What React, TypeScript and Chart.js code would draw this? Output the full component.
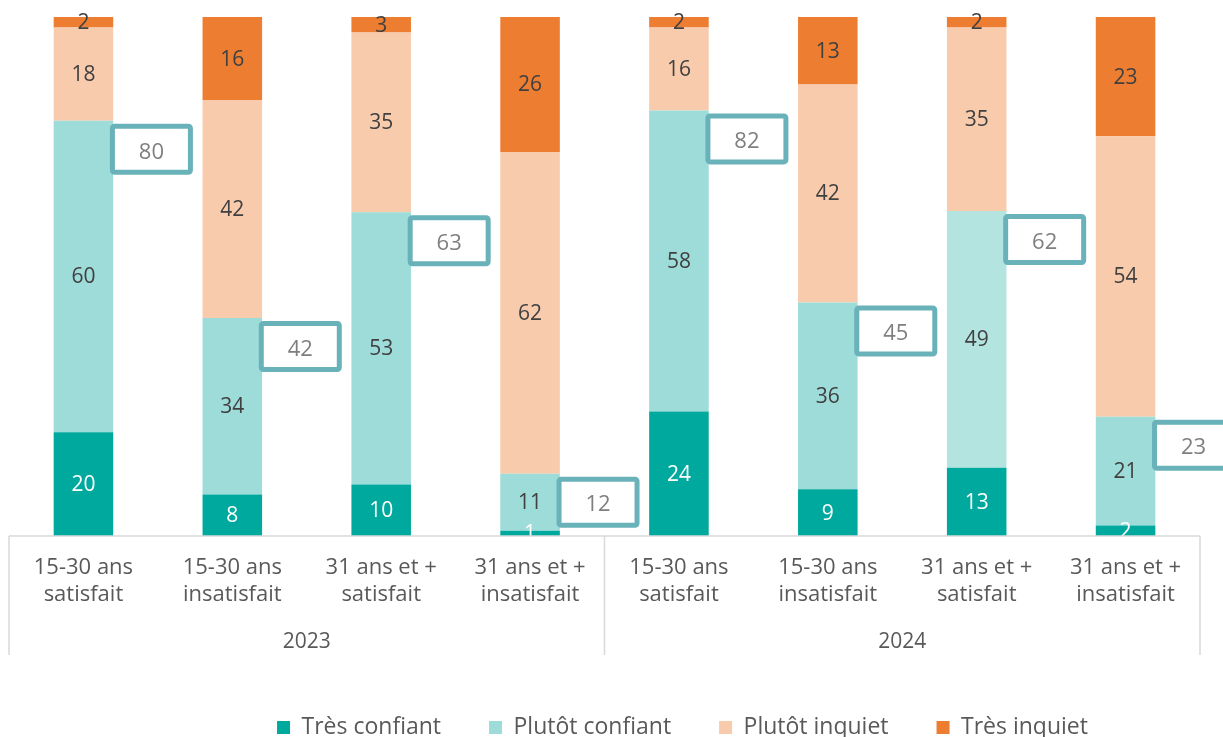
import React, { useEffect, useRef } from "react";
import { Chart, registerables } from "chart.js";
Chart.register(...registerables);

const categories = [
  ["15-30 ans", "satisfait"],
  ["15-30 ans", "insatisfait"],
  ["31 ans et +", "satisfait"],
  ["31 ans et +", "insatisfait"],
  ["15-30 ans", "satisfait"],
  ["15-30 ans", "insatisfait"],
  ["31 ans et +", "satisfait"],
  ["31 ans et +", "insatisfait"],
];
const years = ["2023", "2024"];
const seriesNames = ["Très confiant", "Plutôt confiant", "Plutôt inquiet", "Très inquiet"];
const tresConfiant = [20, 8, 10, 1, 24, 9, 13, 2];
const plutotConfiant = [60, 34, 53, 11, 58, 36, 49, 21];
const plutotInquiet = [18, 42, 35, 62, 16, 42, 35, 54];
const tresInquiet = [2, 16, 3, 26, 2, 13, 2, 23];
const totalConfiant = [80, 42, 63, 12, 82, 45, 62, 23];

const FONT = "'Open Sans', Lato, sans-serif";
const TEXT = "#595959";
const series = [tresConfiant, plutotConfiant, plutotInquiet, tresInquiet];
const totals = categories.map((_, i) => series.reduce((s, arr) => s + arr[i], 0));
const pct = (arr: number[]) => arr.map((v, i) => (v / totals[i]) * 100);

const colors = ["#00A99D", "#9DDCD9", "#F8CBAD", "#ED7D31"];
const lightConfiant = "#B3E4E0";

const labelsPlugin = {
  id: "segLabels",
  afterDatasetsDraw(chart: any) {
    const ctx = chart.ctx;
    ctx.save();
    ctx.font = `21px ${FONT}`;
    ctx.textAlign = "center";
    ctx.textBaseline = "middle";
    series.forEach((arr, d) => {
      const meta = chart.getDatasetMeta(d);
      meta.data.forEach((bar: any, i: number) => {
        const { x, y, base } = bar.getProps(["x", "y", "base"], true);
        ctx.fillStyle = d === 0 ? "#FFFFFF" : "#404040";
        ctx.fillText(String(arr[i]), x, (y + base) / 2 + 1);
      });
    });
    // callout boxes
    const meta = chart.getDatasetMeta(1);
    meta.data.forEach((bar: any, i: number) => {
      const { x, y, width } = bar.getProps(["x", "y", "width"], true);
      const right = x + width / 2;
      const bx = right - 0.8;
      const by = y + 5.5;
      const bw = 78;
      const bh = 46;
      ctx.beginPath();
      ctx.lineWidth = 5;
      ctx.strokeStyle = "#6AB2BA";
      ctx.fillStyle = "#FFFFFF";
      ctx.roundRect(bx, by, bw, bh, 2);
      ctx.fill();
      ctx.stroke();
      ctx.fillStyle = "#7F7F7F";
      ctx.font = `22px ${FONT}`;
      ctx.fillText(String(totalConfiant[i]), bx + bw / 2, by + bh / 2 + 3);
    });
    ctx.restore();
  },
};

const axisPlugin = {
  id: "groupAxis",
  afterDraw(chart: any) {
    const ctx = chart.ctx;
    const { left, right, bottom } = chart.chartArea;
    const xs = chart.scales.x;
    const mid = (xs.getPixelForValue(3) + xs.getPixelForValue(4)) / 2;
    ctx.save();
    ctx.strokeStyle = "#D9D9D9";
    ctx.lineWidth = 1.5;
    ctx.beginPath();
    ctx.moveTo(left, bottom);
    ctx.lineTo(right, bottom);
    [left, mid, right].forEach((px) => {
      ctx.moveTo(px, bottom);
      ctx.lineTo(px, bottom + 119);
    });
    ctx.stroke();
    ctx.fillStyle = TEXT;
    ctx.font = `21px ${FONT}`;
    ctx.textAlign = "center";
    ctx.textBaseline = "middle";
    ctx.fillText(years[0], (left + mid) / 2, bottom + 106);
    ctx.fillText(years[1], (mid + right) / 2, bottom + 106);
    ctx.restore();
  },
};

const legendShift = {
  id: "legendShift",
  afterLayout(chart: any) {
    if (chart.legend) {
      chart.legend.left += 78;
      chart.legend.right += 78;
    }
  },
};

export default function App() {
  const ref = useRef<HTMLCanvasElement>(null);
  useEffect(() => {
    if (!ref.current) return;
    const chart = new Chart(ref.current, {
      type: "bar",
      data: {
        labels: categories as any,
        datasets: series.map((arr, d) => ({
          label: seriesNames[d],
          data: pct(arr),
          backgroundColor:
            d === 1
              ? (c: any) => (c.dataIndex === 6 ? lightConfiant : colors[1])
              : colors[d],
          borderWidth: 0,
          barPercentage: 0.4,
          categoryPercentage: 1,
        })),
      },
      options: {
        animation: false,
        responsive: false,
        maintainAspectRatio: false,
        layout: { padding: { top: 17, left: 9, right: 23, bottom: 0 } },
        scales: {
          x: {
            stacked: true,
            grid: { display: false },
            border: { display: false },
            ticks: {
              color: TEXT,
              font: { family: FONT, size: 22, lineHeight: 1.2 },
              padding: 11,
              maxRotation: 0,
              autoSkip: false,
            },
            afterFit: (s: any) => {
              s.height = 132;
            },
          },
          y: { stacked: true, display: false, min: 0, max: 100 },
        },
        plugins: {
          legend: {
            position: "bottom",
            labels: {
              color: TEXT,
              boxWidth: 13,
              boxHeight: 13,
              padding: 48,
              font: { family: FONT, size: 23 },
            },
          },
          tooltip: { enabled: false },
        },
      },
      plugins: [labelsPlugin, axisPlugin, legendShift],
    });
    return () => chart.destroy();
  }, []);
  return (
    <div style={{ position: "fixed", left: 0, top: 0, width: 1223, height: 737, overflow: "hidden", background: "#fff" }}>
      <canvas ref={ref} width={1223} height={749} style={{ display: "block" }} />
    </div>
  );
}
